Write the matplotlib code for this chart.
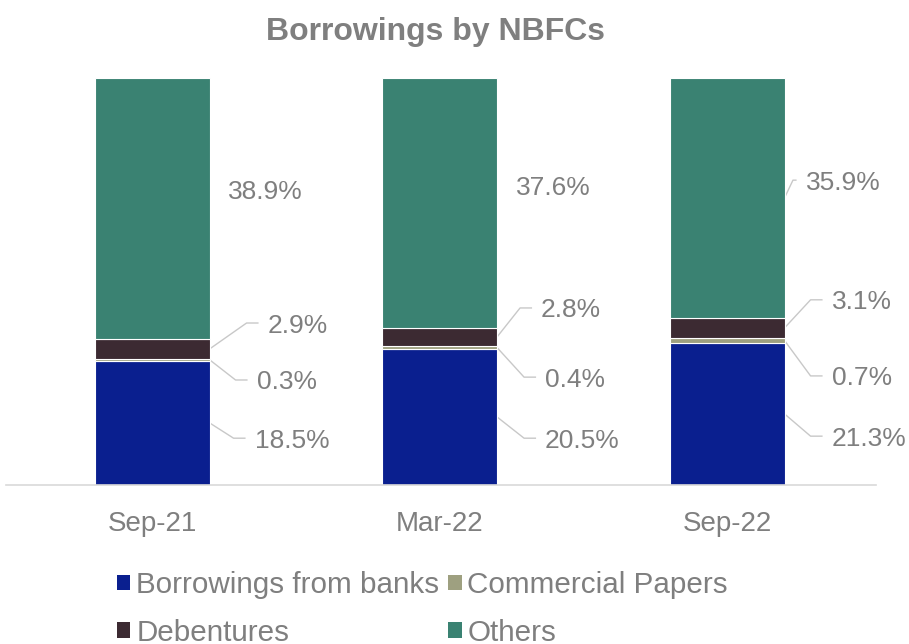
import matplotlib
matplotlib.use('Agg')
import matplotlib.pyplot as plt
from matplotlib.patches import Patch
import numpy as np

plt.rcParams['font.family'] = ['Liberation Sans', 'DejaVu Sans']

# data (share of total borrowings, %)
periods = ['Sep-21', 'Mar-22', 'Sep-22']
series = ['Borrowings from banks', 'Commercial Papers', 'Debentures', 'Others']
banks = [18.5, 20.5, 21.3]
cps = [0.3, 0.4, 0.7]
debentures = [2.9, 2.8, 3.1]
others = [38.9, 37.6, 35.9]
colors = ['#0A1F8F', '#9EA080', '#3C2A32', '#3A8272']

# label layout: text x offset from bar edge (px), text y (axes fraction), leader line?
label_dx = [[45, 47, 58, 18], [48, 48, 44, 19], [47, 47, 47, 21]]
label_y = [[0.115, 0.258, 0.398, 0.725],
           [0.115, 0.265, 0.435, 0.735],
           [0.120, 0.268, 0.455, 0.749]]
leader = [[True, True, True, False], [True, True, True, False], [True, True, True, True]]

GREY = '#7F7F7F'
PX = 1 / 287.5  # data units per pixel along x
BW = 0.4

values = np.array([banks, cps, debentures, others])  # series x periods
shares = values / values.sum(axis=0)

fig = plt.figure(figsize=(9.09, 6.44), dpi=100)
ax = fig.add_axes([6 / 909, 1 - 485 / 644, 870 / 909, 407 / 644])

x = np.arange(len(periods))
bottom = np.zeros(len(periods))
for k in range(len(series)):
    ax.bar(x, shares[k], BW, bottom=bottom, color=colors[k],
           edgecolor='white', linewidth=0.8, zorder=2)
    for i in range(len(periods)):
        edge = x[i] + BW / 2
        anchor = bottom[i] + shares[k][i] / 2
        tx = edge + label_dx[i][k] * PX
        ty = label_y[i][k]
        ax.text(tx, ty, f'{values[k][i]:.1f}%', fontsize=19, color=GREY,
                ha='left', va='center_baseline')
        if leader[i][k]:
            gap = label_dx[i][k]
            elbow = edge + max(0.4 * gap, gap - 21) * PX
            end = tx - 9 * PX
            ax.plot([edge, elbow, end], [anchor, ty, ty], color='#C8C8C8',
                    linewidth=1, zorder=1, solid_capstyle='butt')
    bottom += shares[k]

ax.set_xlim(-0.508, 2.518)
ax.set_ylim(0, 1)
ax.set_xticks(x)
ax.set_xticklabels(periods, fontsize=20, color=GREY)
ax.tick_params(axis='x', length=0, pad=19)
ax.set_yticks([])
for s in ['top', 'left', 'right']:
    ax.spines[s].set_visible(False)
ax.spines['bottom'].set_color('#D9D9D9')
ax.spines['bottom'].set_linewidth(1.2)

fig.text(435 / 909, 1 - 40 / 644, 'Borrowings by NBFCs', fontsize=23,
         fontweight='bold', color=GREY, ha='center', va='baseline')

order = [0, 2, 1, 3]
handles = [Patch(facecolor=colors[k], label=series[k]) for k in order]
leg = fig.legend(handles=handles, loc='upper left', ncol=2,
                 bbox_to_anchor=(117 / 909, 1 - 571 / 644), frameon=False,
                 fontsize=21.3, handlelength=0.45, handleheight=0.45,
                 handletextpad=0.2, columnspacing=0.3, borderpad=0,
                 borderaxespad=0, labelspacing=0.66)
for t in leg.get_texts():
    t.set_color(GREY)

fig.savefig('out.png', dpi=100)
